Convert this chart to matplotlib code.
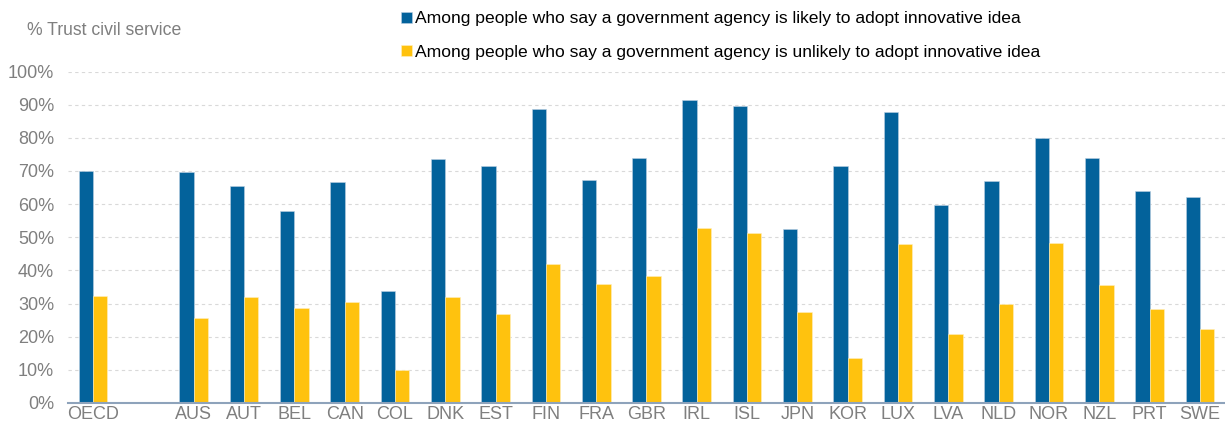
import numpy as np
import matplotlib.pyplot as plt
from matplotlib.ticker import PercentFormatter

plt.rcParams['font.family'] = ['Liberation Sans', 'DejaVu Sans']

# --- Data ---
countries = ["OECD", "", "AUS", "AUT", "BEL", "CAN", "COL", "DNK", "EST", "FIN", "FRA",
             "GBR", "IRL", "ISL", "JPN", "KOR", "LUX", "LVA", "NLD", "NOR", "NZL",
             "PRT", "SWE"]

likely = [70.0, np.nan, 69.6, 65.4, 58.0, 66.6, 33.9, 73.7, 71.6, 88.8, 67.2,
          74.0, 91.3, 89.5, 52.5, 71.4, 87.8, 59.7, 67.1, 80.0, 73.9, 63.9, 62.3]
unlikely = [32.4, np.nan, 25.6, 31.9, 28.6, 30.4, 10.0, 32.1, 26.8, 41.9, 36.0,
            38.2, 52.8, 51.2, 27.5, 13.7, 47.9, 20.7, 30.0, 48.4, 35.7, 28.3, 22.2]

label_likely = "Among people who say a government agency is likely to adopt innovative idea"
label_unlikely = "Among people who say a government agency is unlikely to adopt innovative idea"

blue = "#03629b"
yellow = "#ffc20e"
grey = "#7f7f7f"

fig = plt.figure(figsize=(12.25, 4.26), dpi=100)
ax = fig.add_axes([0.0555, 0.054, 0.9445, 0.778])

x = np.arange(len(countries))
w = 0.285
ax.bar(x - w / 2, likely, width=w, color=blue, edgecolor="#bcd0e3", linewidth=0.4,
       label=label_likely, zorder=3)
ax.bar(x + w / 2, unlikely, width=w, color=yellow, edgecolor="#fff0c0", linewidth=0.4,
       label=label_unlikely, zorder=3)

ax.set_xlim(-0.5, len(countries) - 0.5)
ax.set_ylim(0, 100)
ax.set_yticks(np.arange(0, 101, 10))
ax.yaxis.set_major_formatter(PercentFormatter(decimals=0))
ax.set_xticks(x)
ax.set_xticklabels(countries)
ax.tick_params(axis="both", length=0, labelsize=13, colors=grey, pad=2)
ax.tick_params(axis="y", pad=10)

ax.grid(axis="y", color="#d9d9d9", linestyle=(0, (3, 3)), linewidth=0.8, zorder=0)
for s in ["top", "right", "left"]:
    ax.spines[s].set_visible(False)
ax.spines["bottom"].set_color("#8ea3bb")
ax.spines["bottom"].set_linewidth(1.5)
ax.spines["bottom"].set_zorder(4)

fig.text(0.022, 0.928, "% Trust civil service", fontsize=12.7, color=grey,
         ha="left", va="center")

fig.legend(loc="upper left", bbox_to_anchor=(0.322, 0.99), frameon=False,
           fontsize=12.6, handlelength=0.6, handleheight=0.6, handletextpad=0.2,
           labelspacing=1.05, borderaxespad=0)

fig.savefig("out.png", dpi=100)
